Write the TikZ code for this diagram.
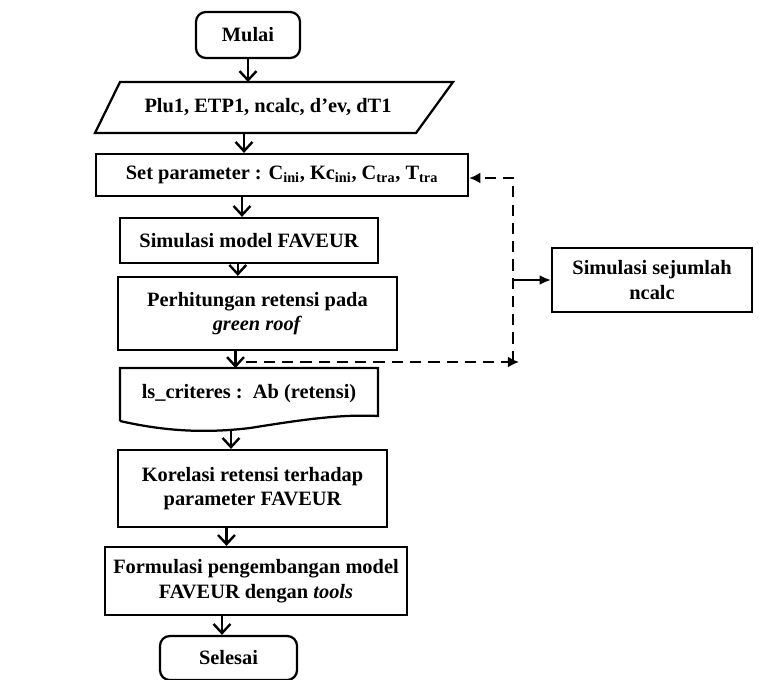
\documentclass[tikz,border=0pt]{standalone}
\usepackage{fontspec}
\setmainfont{Liberation Serif}
\usetikzlibrary{arrows.meta,calc}

\tikzset{
  teks/.style={align=center, inner sep=0pt, font=\bfseries\fontsize{14.5}{17.5}\selectfont},
  kotak/.style={teks, draw, line width=1.6pt},
  ujung/.style={kotak, rounded corners=7pt},
  panah/.style={line width=1.7pt, -{Straight Barb[length=6.5pt,width=12pt]}},
  putus/.style={line width=2pt, dash pattern=on 8pt off 5pt},
}

\begin{document}
\begin{tikzpicture}[x=0.025cm, y=-0.025cm]
	\useasboundingbox (0,0) rectangle (760,679);
	%%%%% START %%%%%
	\node[ujung, minimum width=2.6cm, minimum height=1.15cm] (mulai) at (248,35) {Mulai};
	
	\coordinate (pA) at (120,82);
	\coordinate (pB) at (453,82);
	\coordinate (pC) at (416,133);
	\coordinate (pD) at (95,133);
	\draw[line width=1.6pt] (pA) -- (pB) -- (pC) -- (pD) -- cycle;
	\node[teks] (input) at (268,107) {Plu1, ETP1, ncalc, d'ev, dT1};
	
	\node[kotak, minimum width=9.3cm, minimum height=1.05cm] (set) at (282,175)
		{Set parameter : C\textsubscript{ini}, Kc\textsubscript{ini}, C\textsubscript{tra}, T\textsubscript{tra}};
	\node[kotak, minimum width=6.45cm, minimum height=1.125cm] (sim) at (249,240.5) {Simulasi model FAVEUR};
	\node[kotak, minimum width=6.975cm, minimum height=1.825cm] (perh) at (257.5,313.5)
		{Perhitungan retensi pada\\\textit{green roof}};
	
	\coordinate (kA) at (120,368);
	\coordinate (kB) at (378,368);
	\coordinate (kC) at (378,416);
	\coordinate (kD) at (120,421);
	\draw[line width=1.6pt] (kD) -- (kA) -- (kB) -- (kC)
		.. controls (340,414) and (300,420) .. (250,428)
		.. controls (200,434) and (160,430) .. (kD);
	\node[teks] (krit) at (249,394) {ls\_criteres :\ \ Ab (retensi)};
	
	\node[kotak, minimum width=6.725cm, minimum height=1.925cm] (kor) at (252.5,488.5)
		{Korelasi retensi terhadap\\parameter FAVEUR};
	\node[kotak, minimum width=7.55cm, minimum height=1.7cm] (form) at (256,581)
		{Formulasi pengembangan model\\FAVEUR dengan \textit{tools}};
	\node[ujung, minimum width=3.425cm, minimum height=1.1cm] (sel) at (228.5,658) {Selesai};
	
	\node[kotak, minimum width=5cm, minimum height=1.6cm] (sim2) at (652,280)
		{Simulasi sejumlah\\ncalc};
	
	% alur utama
	\draw[panah] (mulai.south) -- (mulai.south |- pA);
	\draw[panah] ([xshift=-0.6cm]input.south |- pD) -- ([xshift=-0.6cm]input.south |- set.north);
	\draw[panah] ([xshift=-1cm]set.south) -- ([xshift=-1cm]set.south |- sim.north);
	\draw[panah] ([xshift=-0.28cm]sim.south) -- ([xshift=-0.28cm]sim.south |- perh.north);
	\draw[panah] ([xshift=-0.55cm]perh.south) -- ([xshift=-0.55cm]perh.south |- kA);
	\draw[panah] ([xshift=-0.45cm]krit.south |- 0,429) -- ([xshift=-0.45cm]krit.south |- kor.north);
	\draw[panah] ([xshift=-0.65cm]kor.south) -- ([xshift=-0.65cm]kor.south |- form.north);
	\draw[panah] ([xshift=-0.85cm]form.south) -- ([xshift=-0.85cm]form.south |- sel.north);
	
	% pengulangan ncalc
	\coordinate (sB) at (513,362);
	\coordinate (sA) at (513,178);
	\draw[putus, -{Latex[length=8pt,width=8pt]}] ([xshift=-0.3cm]perh.south |- sB) -- ([xshift=0.15cm]sB);
	\draw[putus, -{Latex[length=8pt,width=8pt]}] (sB) -- (sA) -- (sA -| set.east);
	\draw[line width=1.3pt, -{Latex[length=8pt,width=7pt]}] (sim2.west -| sA) -- (sim2.west);
	%%%%% END %%%%%
\end{tikzpicture}
\end{document}
